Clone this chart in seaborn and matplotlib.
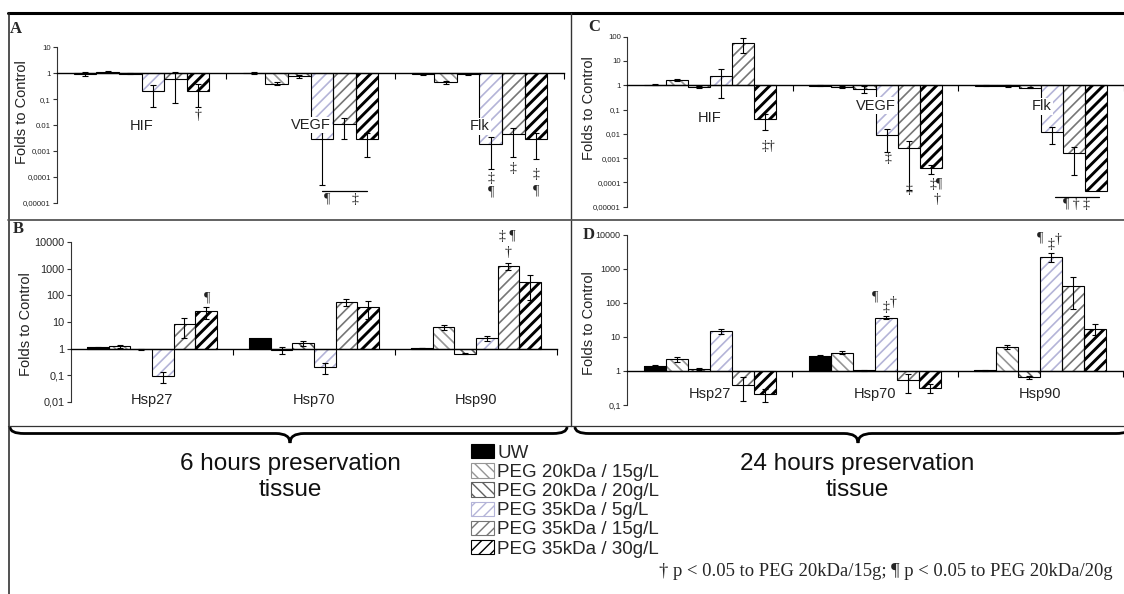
import numpy as np
import pandas as pd
import seaborn as sns
import matplotlib.pyplot as plt
import matplotlib.patches as mpatches
from matplotlib.lines import Line2D
from matplotlib.path import Path

groups = ["UW", "PEG 20kDa / 15g/L", "PEG 20kDa / 20g/L",
          "PEG 35kDa / 5g/L", "PEG 35kDa / 15g/L", "PEG 35kDa / 30g/L"]
genes_ac = ["HIF", "VEGF", "Flk"]
genes_bd = ["Hsp27", "Hsp70", "Hsp90"]

# folds to control (mean) and SD, one row per gene, columns follow `groups`
# A: 6 hours preservation, HIF / VEGF / Flk
a_fold = [[0.95, 1.15, 0.95, 0.2, 0.6, 0.21],
          [1.05, 0.4, 0.75, 0.0028, 0.011, 0.0028],
          [0.9, 0.45, 0.9, 0.0018, 0.0043, 0.0028]]
a_sd = [[0.15, 0.05, 0.03, 0.15, 0.53, 0.16],
        [0.08, 0.06, 0.1, 0.00275, 0.008, 0.0022],
        [0.05, 0.07, 0.05, 0.0016, 0.0037, 0.0023]]
# C: 24 hours preservation, HIF / VEGF / Flk
c_fold = [[1.05, 1.7, 0.85, 2.5, 55, 0.04],
          [0.95, 0.85, 0.7, 0.0086, 0.0025, 0.00038],
          [0.97, 0.95, 0.8, 0.0115, 0.0016, 0.000045]]
c_sd = [[0.05, 0.15, 0.1, 2.2, 33, 0.026],
        [0.05, 0.1, 0.2, 0.0068, 0.00245, 0.00015],
        [0.03, 0.06, 0.05, 0.0078, 0.0014, 0.0]]
# B: 6 hours preservation, Hsp27 / Hsp70 / Hsp90
b_fold = [[1.1, 1.2, 0.95, 0.09, 8.5, 25],
          [2.4, 0.85, 1.6, 0.2, 55, 38],
          [1.05, 6.5, 0.65, 2.5, 1300, 330]]
b_sd = [[0.05, 0.12, 0.03, 0.04, 6, 12],
        [0.0, 0.25, 0.3, 0.09, 16, 25],
        [0.03, 1.3, 0.05, 0.5, 370, 260]]
# D: 24 hours preservation, Hsp27 / Hsp70 / Hsp90
d_fold = [[1.4, 2.2, 1.15, 14.8, 0.4, 0.21],
          [2.8, 3.5, 1.05, 37, 0.53, 0.32],
          [1.05, 5.0, 0.65, 2250, 320, 17.5]]
d_sd = [[0.1, 0.4, 0.05, 2.2, 0.27, 0.085],
        [0.2, 0.35, 0.05, 4, 0.3, 0.1],
        [0.03, 0.7, 0.06, 650, 255, 6]]

# significance marks: (text, x in category units, log10 y)
a_marks = [("†", 0.333, -1.63), ("¶", 1.10, -4.87), ("‡", 1.263, -4.87),
           ("‡", 2.067, -4.05), ("¶", 2.067, -4.6), ("‡", 2.2, -3.68),
           ("‡", 2.333, -3.9), ("¶", 2.333, -4.54)]
a_lines = [(1.067, 1.333, -4.54)]
c_marks = [("‡†", 0.357, -2.52), ("‡", 1.074, -3.03), ("‡", 1.2, -4.31),
           ("‡¶", 1.366, -4.1), ("†", 1.372, -4.72), ("¶ † ‡", 2.213, -4.89)]
c_lines = [(2.084, 2.349, -4.61)]
b_marks = [("¶", 0.34, 1.92), ("‡ ¶", 2.194, 4.2), ("†", 2.196, 3.63)]
d_marks = [("¶", 1.0, 2.19), ("‡", 1.065, 1.86), ("†", 1.109, 2.01),
           ("¶", 2.0, 3.92), ("‡", 2.065, 3.73), ("†", 2.107, 3.87)]

footnote = "† p < 0.05 to PEG 20kDa/15g; ¶ p < 0.05 to PEG 20kDa/20g"

faces = {g: "white" for g in groups}
faces["UW"] = "black"
hatches = [None, "\\\\\\", "\\\\\\", "///", "///", "///"]
hatch_colors = ["black", "#969696", "#606060", "#b4b4d8", "#767676", "black"]
hatch_lw = [1.0, 1.2, 1.2, 1.2, 1.2, 2.1]

sns.set_theme(style="white")
plt.rcParams['font.family'] = ['Liberation Sans', 'DejaVu Sans']
serif = ['Liberation Serif', 'DejaVu Serif']

W, H = 1124, 594
fig = plt.figure(figsize=(W / 100, H / 100), dpi=100)


def fx(x):
    return x / W


def fy(y):
    return 1 - y / H


def tick_text(k):
    if k >= 0:
        return str(10 ** k)
    return "0," + "0" * (-k - 1) + "1"


def draw_panel(box, genes, fold, sd, ymin, ymax, tick_fs, label_y, marks, lines):
    x0, x1, ytop, ybot = box
    ax = fig.add_axes([fx(x0), fy(ybot), (x1 - x0) / W, (ybot - ytop) / H])
    ax.patch.set_alpha(0)
    df = pd.DataFrame([(g, grp, fold[i][j]) for i, g in enumerate(genes)
                       for j, grp in enumerate(groups)],
                      columns=["gene", "group", "fold"])
    df["log"] = np.log10(df["fold"])
    sns.barplot(data=df, x="gene", y="log", hue="group", order=genes,
                hue_order=groups, palette=faces, saturation=1, width=0.8,
                errorbar=None, legend=False, ax=ax)
    bar_sets = list(ax.containers)
    for j, cont in enumerate(bar_sets):
        for i, bar in enumerate(cont.patches):
            bar.set_linewidth(0)
            bar.set_edgecolor(hatch_colors[j])
            if hatches[j]:
                bar.set_hatch(hatches[j])
                if hasattr(bar, "set_hatch_linewidth"):
                    bar.set_hatch_linewidth(hatch_lw[j])
                else:
                    bar._hatch_linewidth = hatch_lw[j]
            ax.add_patch(mpatches.Rectangle(bar.get_xy(), bar.get_width(), bar.get_height(),
                                            fill=False, edgecolor="black", linewidth=0.8,
                                            zorder=3))
            m, s = fold[i][j], sd[i][j]
            if s > 0:
                lm = np.log10(m)
                hi = np.log10(m + s)
                lo = np.log10(m - s) if m - s > 0 else ymin
                ax.errorbar(bar.get_x() + bar.get_width() / 2, lm,
                            yerr=[[lm - lo], [hi - lm]], fmt="none", ecolor="black",
                            elinewidth=0.8, capsize=2.5, capthick=0.8, zorder=4)
    ax.set_xlim(-0.5, 2.5)
    ax.set_ylim(ymin, ymax)
    ax.set_yticks(range(ymin, ymax + 1))
    ax.set_yticklabels([tick_text(k) for k in range(ymin, ymax + 1)])
    ax.set_xticks([0.5, 1.5, 2.5])
    ax.set_xticklabels([])
    ax.set_xlabel("")
    ax.set_ylabel("")
    for side in ["top", "right"]:
        ax.spines[side].set_visible(False)
    ax.spines["bottom"].set_position(("data", 0))
    ax.spines["bottom"].set_linewidth(1.0)
    ax.spines["bottom"].set_color("black")
    ax.spines["left"].set_linewidth(0.8)
    ax.spines["left"].set_color("#333333")
    ax.tick_params(axis="x", bottom=True, direction="out", length=4, width=0.8, color="black")
    ax.tick_params(axis="y", left=True, direction="out", length=3, width=0.8,
                   labelsize=tick_fs, pad=1.5, color="#333333")
    for i, g in enumerate(genes):
        ax.text(i, label_y[i], g, ha="center", va="center", fontsize=10.5, color="#222222",
                zorder=6, bbox=dict(facecolor="white", edgecolor="none", pad=1.0))
    for t, x, y in marks:
        ax.text(x, y, t, ha="center", va="center", fontsize=10, family=serif,
                color="#222222", zorder=7, clip_on=False)
    for xa, xb, y in lines:
        ax.plot([xa, xb], [y, y], color="black", lw=0.9, clip_on=False, zorder=7)
    return ax


ax_a = draw_panel((57, 564, 47.3, 202.7), genes_ac, a_fold, a_sd, -5, 1, 5.6,
                  [-2.05, -2.0, -2.05], a_marks, a_lines)
ax_a.set_yticklabels(["0,00001", "0,0001", "0,001", "0.01", "0,1", "1", "10"])
ax_c = draw_panel((627, 1124, 36.7, 206.7), genes_ac, c_fold, c_sd, -5, 2, 5.6,
                  [-1.35, -0.85, -0.87], c_marks, c_lines)
ax_b = draw_panel((71, 557, 242.3, 401.7), genes_bd, b_fold, b_sd, -2, 4, 7.8,
                  [-1.95, -1.95, -1.95], b_marks, [])
ax_d = draw_panel((627, 1123, 235, 405), genes_bd, d_fold, d_sd, -1, 4, 6.5,
                  [-0.67, -0.67, -0.67], d_marks, [])

# y labels and panel letters
for x, y in [(22.5, 112), (26, 324), (589, 108), (589, 323)]:
    fig.text(fx(x), fy(y), "Folds to Control", rotation=90, ha="center", va="center",
             fontsize=10.5, color="#222222")
for t, x, y in [("A", 16, 29), ("B", 18, 229), ("C", 594.5, 27), ("D", 589, 235)]:
    fig.text(fx(x), fy(y), t, ha="center", va="center", fontsize=12,
             fontweight="bold", family=serif)

# frame lines
frame = [((8, 1124), (13, 13), 2.2, "black"),
         ((8.5, 8.5), (13, 594), 1.1, "#222222"),
         ((571, 571), (13, 426), 1.0, "#333333"),
         ((8, 1124), (220, 220), 1.3, "#555555"),
         ((8, 1124), (426, 426), 0.9, "#333333")]
for xs, ys, lw, col in frame:
    fig.add_artist(Line2D([fx(v) for v in xs], [fy(v) for v in ys], lw=lw, color=col,
                          transform=fig.transFigure))


def brace(x0, x1, xc, ytop, ymid, ytip):
    pts = [(x0, ytop), (x0, ymid), (x0 + 14, ymid), (xc - 14, ymid),
           (xc, ymid), (xc, ytip), (xc, ymid), (xc + 14, ymid),
           (x1 - 14, ymid), (x1, ymid), (x1, ytop)]
    codes = [Path.MOVETO, Path.CURVE3, Path.CURVE3, Path.LINETO,
             Path.CURVE3, Path.CURVE3, Path.CURVE3, Path.CURVE3,
             Path.LINETO, Path.CURVE3, Path.CURVE3]
    path = Path([(fx(x), fy(y)) for x, y in pts], codes)
    fig.add_artist(mpatches.PathPatch(path, fill=False, lw=2.0, edgecolor="black",
                                      transform=fig.transFigure))


brace(10, 567, 290, 427, 433.5, 443)
brace(575, 1130, 858, 427, 433.5, 443)

fig.text(fx(290), fy(477), "6 hours preservation\ntissue", ha="center", va="center",
         fontsize=17.5, linespacing=1.28, color="#111111")
fig.text(fx(857), fy(477), "24 hours preservation\ntissue", ha="center", va="center",
         fontsize=17.5, linespacing=1.28, color="#111111")

handles = []
for j, g in enumerate(groups):
    p = mpatches.Patch(facecolor=faces[g], edgecolor=hatch_colors[j],
                       hatch=hatches[j], linewidth=0.8)
    if hatches[j] and hasattr(p, "set_hatch_linewidth"):
        p.set_hatch_linewidth(hatch_lw[j])
    handles.append(p)
fig.legend(handles, groups, loc="upper left", bbox_to_anchor=(fx(471), fy(444)),
           frameon=False, fontsize=13.5, handlelength=1.25, handleheight=0.8,
           handletextpad=0.15, labelspacing=0.08, borderpad=0, borderaxespad=0)

fig.text(fx(1113), fy(572), footnote, ha="right", va="center", fontsize=13.4, family=serif)

fig.savefig("out.png", dpi=100)
